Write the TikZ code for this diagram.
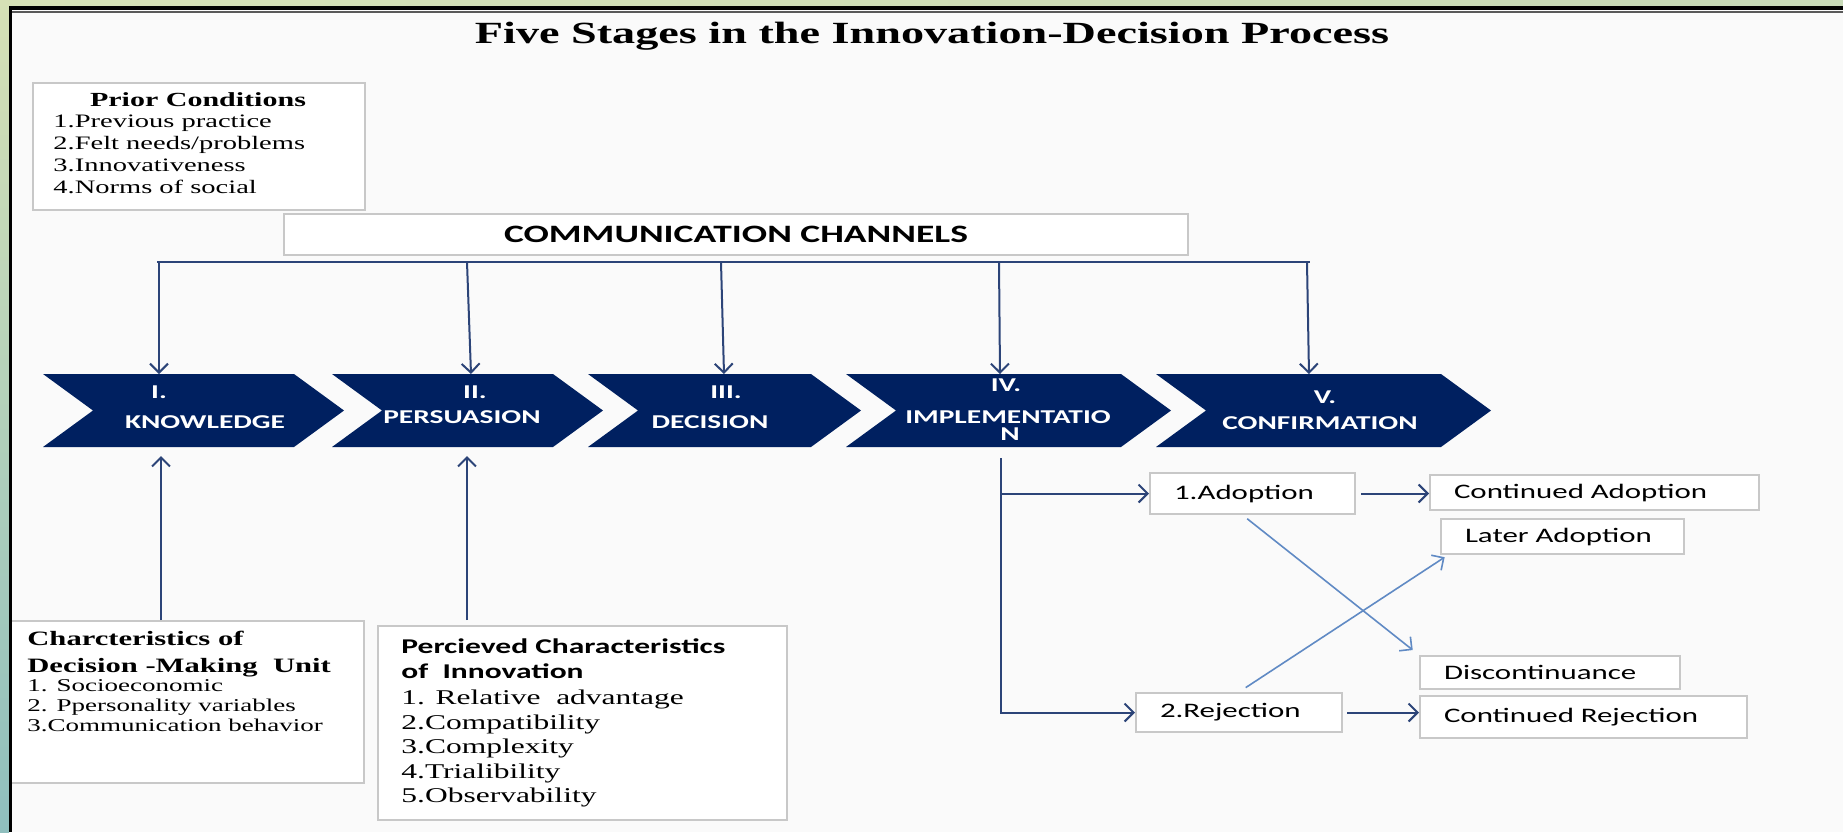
\documentclass[tikz,border=0pt]{standalone}
\usepackage{fontspec}
\setmainfont{Liberation Serif}[FakeStretch=1.5]
\newfontfamily\calibri{Carlito}[FakeStretch=1.5]
\usetikzlibrary{arrows.meta}

\definecolor{stageblue}{RGB}{0,32,96}
\definecolor{flowblue}{RGB}{44,68,120}
\definecolor{crossblue}{RGB}{96,138,196}
\definecolor{boxgray}{RGB}{200,200,200}
\definecolor{pagebg}{RGB}{250,250,250}
\definecolor{rimgreen}{RGB}{214,225,182}
\definecolor{rimteal}{RGB}{143,191,190}
\definecolor{rimblue}{RGB}{146,188,200}

\tikzset{
    card/.style={draw=boxgray, line width=1pt, fill=white},
    stagetext/.style={text=white, inner sep=0, font=\calibri\bfseries\fontsize{9.8}{11}\selectfont},
    flow/.style={draw=flowblue, line width=1pt, -{Straight Barb[length=4.5pt,width=9pt]}},
    cross/.style={draw=crossblue, line width=0.8pt, -{Straight Barb[length=4.5pt,width=9pt]}},
    outcome/.style={card, anchor=north west, inner xsep=12pt, inner ysep=0pt, align=left, font=\calibri\fontsize{10.3}{12}\selectfont},
}

\begin{document}
\begin{tikzpicture}[x=0.5pt, y=-0.5pt]
    \useasboundingbox (0,0) rectangle (1843,832);
    \fill[pagebg] (0,0) rectangle (1843,832);

    \node[font=\bfseries\fontsize{15.4}{18}\selectfont, anchor=base] (title) at (932,43) {Five Stages in the Innovation-Decision Process};

    % prior conditions
    \node[card, anchor=north west, minimum width=166pt, minimum height=63.5pt] (prior) at (32,82) {};
    \node[font=\bfseries\fontsize{10}{12}\selectfont, anchor=base] (priorhead) at (198,106) {Prior Conditions};
    \node[anchor=north west, align=left, inner sep=0, font=\fontsize{9.5}{11}\selectfont] (priorlist) at (53,115) {
        1.Previous practice\\
        2.Felt needs/problems\\
        3.Innovativeness\\
        4.Norms of social
    };

    % channels feeding every stage
    \node[card, anchor=north west, minimum width=452pt, minimum height=20.5pt, font=\calibri\bfseries\fontsize{12.5}{14}\selectfont] (chan) at (283,213) {COMMUNICATION CHANNELS};
    \foreach \n/\xa/\xb in {1/159/159, 2/467/471, 3/721/724, 4/999/1000, 5/1307/1309} {
        \coordinate (ch\n) at (\xa,262);
        \coordinate (st\n) at (\xb,374);
    }
    \draw[flowblue, line width=1pt] ([xshift=-1pt]ch1) -- ([xshift=1.5pt]ch5);
    \foreach \n in {1,...,5}
        \draw[flow] (ch\n) -- (st\n);

    % the five stages
    \foreach \a/\b in {43/294, 332/553, 588/811, 846/1121, 1156/1441}
        \fill[stageblue] (\a,374) -- (\b,374) -- (\b+50,410.5) -- (\b,447) -- (\a,447) -- (\a+50,410.5) -- cycle;
    \foreach \x/\y/\t/\nm in {159/392/I./num1, 205/422/KNOWLEDGE/name1,
                              475/392/II./num2, 462/417/PERSUASION/name2,
                              726/392/III./num3, 710/422/DECISION/name3,
                              1006/385/IV./num4, 1008/417/IMPLEMENTATIO/name4, 1010/434/N/tail4,
                              1325/397/V./num5, 1320/423/CONFIRMATION/name5}
        \node[stagetext] (\nm) at (\x,\y) {\t};

    % characteristics below the first two stages
    \node[card, anchor=north west, minimum width=179pt, minimum height=81pt] (dmu) at (5,620) {};
    \node[anchor=north west, align=left, inner sep=0, font=\bfseries\fontsize{10.2}{13.5}\selectfont] (dmuhead) at (27,631) {
        Charcteristics of\\
        Decision -Making\ \ Unit
    };
    \node[anchor=north west, align=left, inner sep=0, font=\fontsize{9}{10}\selectfont] (dmulist) at (27,679) {
        1. Socioeconomic\\
        2. Ppersonality variables\\
        3.Communication behavior
    };

    \node[card, anchor=north west, minimum width=204.5pt, minimum height=97pt] (perc) at (377,625) {};
    \node[anchor=north west, align=left, inner sep=0, font=\calibri\bfseries\fontsize{10.5}{12.5}\selectfont] (perchead) at (401,638) {
        Percieved Characteristics\\
        of\ \ Innovation
    };
    \node[anchor=north west, align=left, inner sep=0, font=\fontsize{10.5}{12.2}\selectfont] (perclist) at (401,690) {
        1. Relative\ \ advantage\\
        2.Compatibility\\
        3.Complexity\\
        4.Trialibility\\
        5.Observability
    };

    \coordinate (up1) at (161,456);
    \coordinate (up2) at (467,456);
    \draw[flow] (dmu.north -| up1) -- (up1);
    \draw[flow, shorten <=2.5pt] (perc.north -| up2) -- (up2);

    % outcomes of implementation
    \node[outcome, text width=78.5pt, minimum height=20.5pt] (adopt) at (1149,472) {1.Adoption};
    \node[outcome, text width=140.5pt, minimum height=17.5pt] (contadopt) at (1429,474) {Continued Adoption};
    \node[outcome, text width=97.5pt, minimum height=17.5pt] (later) at (1440,518) {Later Adoption};
    \node[outcome, text width=106pt, minimum height=16.5pt] (disc) at (1419,655) {Discontinuance};
    \node[outcome, text width=79pt, minimum height=19.5pt] (rej) at (1135,692) {2.Rejection};
    \node[outcome, text width=139.5pt, minimum height=21pt] (contrej) at (1419,695) {Continued Rejection};

    \coordinate (ib) at (1001,458);
    \draw[flow] (ib) -- (ib |- rej.west) -- (rej.west);
    \draw[flow] (ib |- adopt.west) -- (adopt.west);
    \draw[flow, shorten <=2.5pt] (adopt.east) -- (adopt.east -| contadopt.west);
    \draw[flow, shorten <=2pt] (rej.east) -- (rej.east -| contrej.west);
    \draw[cross, shorten <=3pt, shorten >=4pt] ([xshift=-5pt]adopt.south) -- (disc.north west);
    \draw[cross, shorten <=4pt, shorten >=2pt] (rej.north) -- ([xshift=4pt]later.south west);

    % slide rim
    \shade[left color=rimgreen, middle color=rimblue, right color=rimgreen!80!rimteal] (0,0) rectangle (1843,6);
    \shade[top color=rimgreen, bottom color=rimteal] (0,0) rectangle (9,832);
    \fill[black] (9,6) rectangle (1843,9.5);
    \fill[black] (9,6) rectangle (11.5,832);
    \fill[black!65] (11.5,10.5) rectangle (1843,12.5);
\end{tikzpicture}
\end{document}
